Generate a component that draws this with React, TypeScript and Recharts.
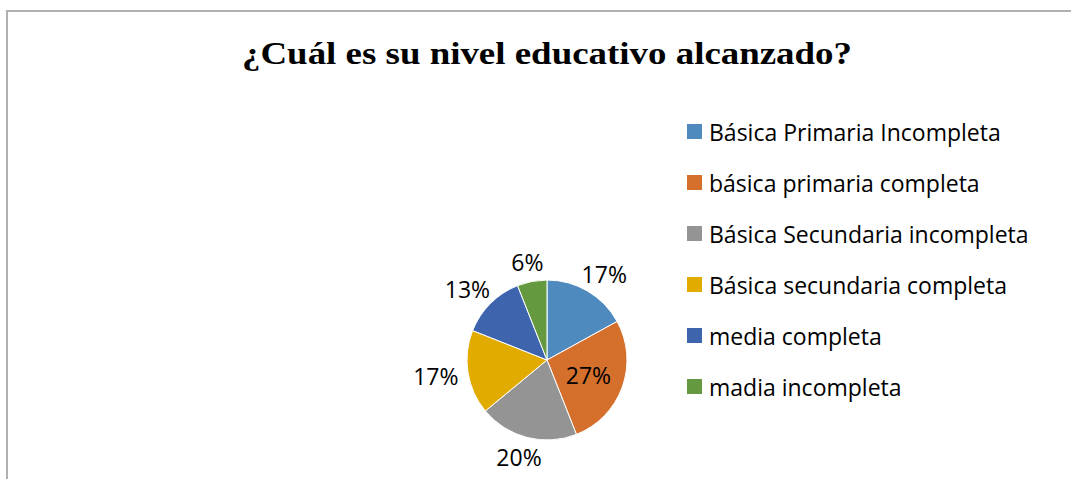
import React from 'react';
import { PieChart, Pie, Cell, Legend } from 'recharts';

const TITLE = '¿Cuál es su nivel educativo alcanzado?';
const CATEGORIES = [
  'Básica Primaria Incompleta',
  'básica primaria completa',
  'Básica Secundaria incompleta',
  'Básica secundaria completa',
  'media completa',
  'madia incompleta',
];
const PERCENTS = [17, 27, 20, 17, 13, 6];
const COLORS = ['#4f8abf', '#d46f2c', '#949494', '#e2ab00', '#3e64ad', '#64993f'];

const data = CATEGORIES.map((name, i) => ({ name, value: PERCENTS[i] }));

const FONT = '"Open Sans", "Noto Sans", sans-serif';
const RAD = Math.PI / 180;

// Excel-like "best fit": only the big slice keeps its label inside
const renderLabel = (props: any) => {
  const { cx, cy, midAngle, outerRadius, index, value } = props;
  const text = `${value}%`;
  const a = -midAngle * RAD;
  const cos = Math.cos(a);
  const sin = Math.sin(a);
  let x: number;
  let y: number;
  if (index === 1) {
    const r = outerRadius * 0.55;
    x = cx + r * cos;
    y = cy + r * sin;
  } else {
    const r = outerRadius + 10;
    const halfW = text.length * 7.5;
    x = cx + r * cos + cos * halfW;
    y = cy + r * sin + sin * 10;
  }
  return (
    <text
      x={x}
      y={y}
      fill="#000"
      fontSize={23}
      fontFamily={FONT}
      textAnchor="middle"
      dominantBaseline="central"
    >
      {text}
    </text>
  );
};

const renderLegend = (props: any) => {
  const { payload } = props;
  return (
    <div>
      {(payload || []).map((entry: any, i: number) => (
        <div
          key={i}
          style={{ display: 'flex', alignItems: 'center', height: 51, fontFamily: FONT, fontSize: 23, color: '#000', whiteSpace: 'nowrap' }}
        >
          <span style={{ width: 15, height: 15, background: entry.color, marginRight: 7, display: 'inline-block' }} />
          <span>{entry.value}</span>
        </div>
      ))}
    </div>
  );
};

export default function App() {
  return (
    <div style={{ position: 'absolute', left: 0, top: 0, width: 1071, height: 479, overflow: 'hidden', background: '#fff' }}>
      <div
        style={{
          position: 'absolute',
          left: 6,
          top: 10,
          width: 1200,
          height: 600,
          borderTop: '2px solid #b0b0b0',
          borderLeft: '2px solid #b0b0b0',
        }}
      />
      <PieChart
        width={1071}
        height={479}
        margin={{ top: 0, right: 0, bottom: 0, left: 0 }}
        style={{ position: 'absolute', left: 0, top: 0 }}
      >
        <text
          x={547}
          y={64}
          textAnchor="middle"
          fontFamily='"Liberation Serif", "Times New Roman", serif'
          fontWeight="bold"
          fontSize={32}
          fill="#000"
          textLength={610}
          lengthAdjust="spacingAndGlyphs"
        >
          {TITLE}
        </text>
        <Pie
          data={data}
          dataKey="value"
          nameKey="name"
          cx={547}
          cy={360}
          outerRadius={80}
          startAngle={90}
          endAngle={-270}
          stroke="#fff"
          strokeWidth={1}
          label={renderLabel}
          labelLine={false}
          isAnimationActive={false}
        >
          {data.map((d, i) => (
            <Cell key={d.name} fill={COLORS[i]} />
          ))}
        </Pie>
        <Legend
          layout="vertical"
          align="right"
          verticalAlign="top"
          itemSorter={null}
          content={renderLegend}
          wrapperStyle={{ left: 687, top: 106, width: 380 }}
        />
      </PieChart>
    </div>
  );
}
